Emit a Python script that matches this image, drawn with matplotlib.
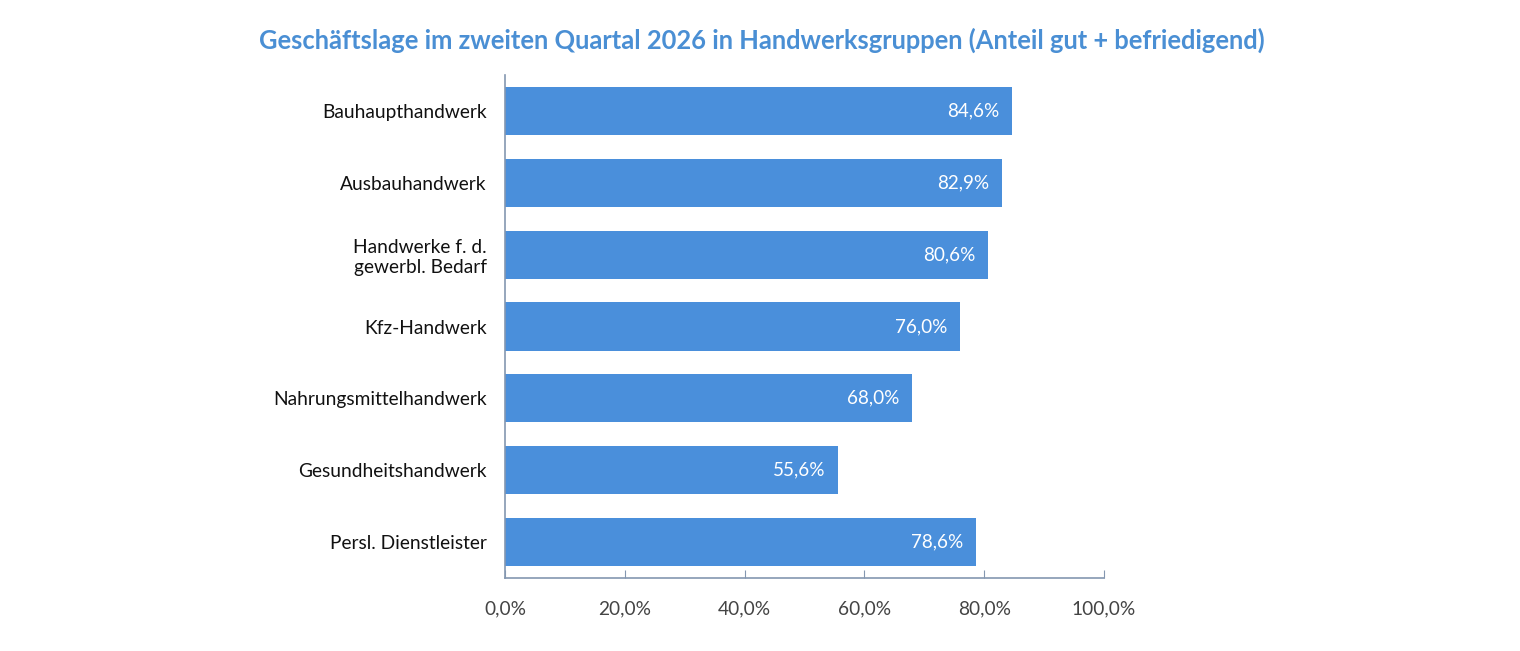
import matplotlib
matplotlib.use("Agg")
from matplotlib import pyplot as plt
import numpy as np

plt.rcParams['font.family'] = ['Lato', 'DejaVu Sans']

groups = ['Bauhaupthandwerk', 'Ausbauhandwerk', 'Handwerke f. d.\ngewerbl. Bedarf',
          'Kfz-Handwerk', 'Nahrungsmittelhandwerk', 'Gesundheitshandwerk',
          'Persl. Dienstleister']
share = [84.6, 82.9, 80.6, 76.0, 68.0, 55.6, 78.6]
xticks = [0, 20, 40, 60, 80, 100]

blue = '#4a8fdb'
axis_col = '#8497b0'

fig = plt.figure(figsize=(15.2, 6.51), dpi=100)
ax = fig.add_axes([0.3322, 0.1121, 0.7263 - 0.3322, 0.8848 - 0.1121])

ypos = np.arange(len(groups))
ax.barh(ypos, share, height=0.67, color=blue)
ax.set_ylim(len(groups) - 0.5, -0.5)
ax.set_xlim(0, 100)

for y, v in zip(ypos, share):
    ax.text(v - 2.1, y, f'{v:.1f}%'.replace('.', ','), color='white',
            ha='right', va='center', fontsize=13.6)

ax.set_yticks(ypos)
ax.set_yticklabels(groups, fontsize=13.8, color='#111111', multialignment='center')
ax.tick_params(axis='y', length=0, pad=13)

ax.set_xticks(xticks)
ax.set_xticklabels([f'{t:.1f}%'.replace('.', ',') for t in xticks],
                   fontsize=13.8, color='#444444')
ax.tick_params(axis='x', direction='in', length=6, color=axis_col, pad=16)

for s in ['top', 'right']:
    ax.spines[s].set_visible(False)
for s in ['left', 'bottom']:
    ax.spines[s].set_color(axis_col)
    ax.spines[s].set_linewidth(1.2)

fig.text(0.5013, 0.938, 'Geschäftslage im zweiten Quartal 2026 in Handwerksgruppen (Anteil gut + befriedigend)',
         ha='center', va='center', fontsize=18.4, fontweight='bold', color='#4a8fd4')

fig.savefig('out.png', dpi=100)
